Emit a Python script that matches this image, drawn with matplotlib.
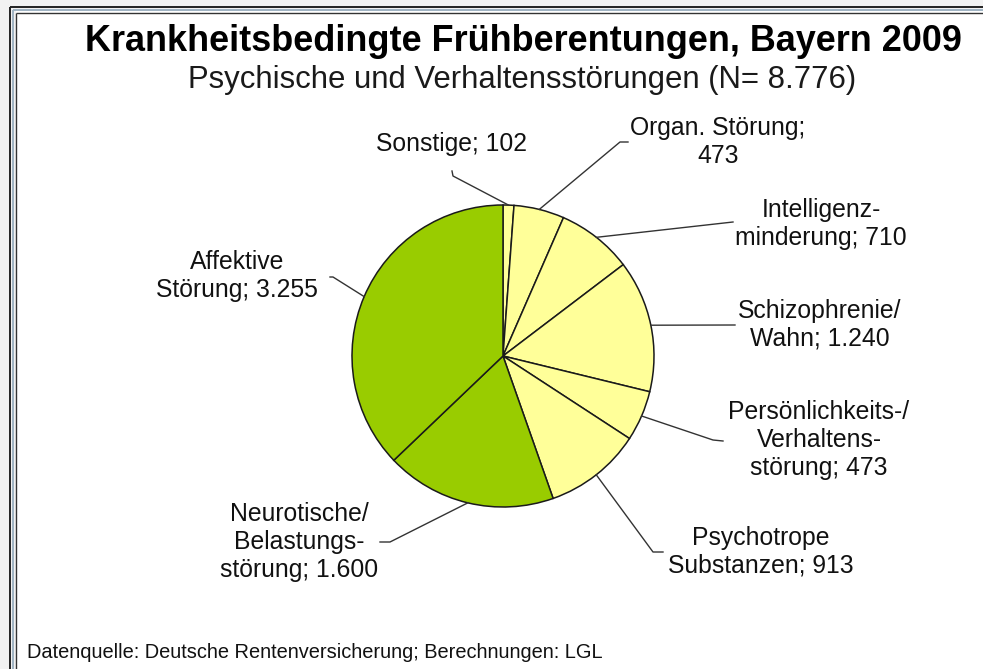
import matplotlib
matplotlib.use("Agg")
import matplotlib.pyplot as plt
from matplotlib.patches import Rectangle
import numpy as np

# ---- data ----
categories = ["Sonstige", "Organ. Störung", "Intelligenzminderung", "Schizophrenie/Wahn",
              "Persönlichkeits-/Verhaltensstörung", "Psychotrope Substanzen",
              "Neurotische/Belastungsstörung", "Affektive Störung"]
values = [102, 473, 710, 1240, 473, 913, 1600, 3255]
label_texts = ["Sonstige; 102", "Organ. Störung;\n473", "Intelligenz-\nminderung; 710",
               "Schizophrenie/\nWahn; 1.240", "Persönlichkeits-/\nVerhaltens-\nstörung; 473",
               "Psychotrope\nSubstanzen; 913", "Neurotische/\nBelastungs-\nstörung; 1.600",
               "Affektive\nStörung; 3.255"]
title = "Krankheitsbedingte Frühberentungen, Bayern 2009"
subtitle = "Psychische und Verhaltensstörungen (N= 8.776)"
footer = "Datenquelle: Deutsche Rentenversicherung; Berechnungen: LGL"

# ---- style ----
YELLOW = "#FFFF99"
GREEN = "#99CC00"
colors = [YELLOW] * 6 + [GREEN] * 2
W, H = 983, 669
plt.rcParams['font.family'] = ['Liberation Sans', 'DejaVu Sans']

fig = plt.figure(figsize=(W / 100, H / 100), dpi=100)
fig.patch.set_facecolor("#f2f2f2")
ax = fig.add_axes([0, 0, 1, 1])

def P(x, y):
    return x, H - y

cx, cy, R = 503, 356, 151
wedges, _ = ax.pie(values, colors=colors, startangle=90, counterclock=False,
                   center=P(cx, cy), radius=R,
                   wedgeprops=dict(edgecolor="#1a1a1a", linewidth=1.1))
ax.set_xlim(0, W)
ax.set_ylim(0, H)
ax.set_aspect("equal")
ax.axis("off")

# frame
ax.add_patch(Rectangle(P(16, H), W, H - 11, facecolor="white", edgecolor="none", zorder=-5))
for off, col, lw in [(10, "#222222", 1.4), (13, "#9fb3c2", 1.4), (16, "#333333", 1.0)]:
    ax.plot([off, off], [0, H - (off - 3)], color=col, lw=lw, zorder=-1, solid_capstyle="butt")
    ax.plot([off, W], [H - (off - 3), H - (off - 3)], color=col, lw=lw, zorder=-1, solid_capstyle="butt")

# label layout (pixel coords): elbow points and text centres
layout = [
    ([(453, 176), (452, 171)], (452, 144)),
    ([(620, 142), (628, 142)], (718, 142)),
    ([(733, 222)], (821, 224)),
    ([(735, 325)], (820, 325)),
    ([(713, 440), (723, 441)], (819, 440)),
    ([(653, 552), (663, 552)], (761, 552)),
    ([(390, 542), (380, 542)], (299, 542)),
    ([(333, 277), (330, 277)], (237, 276)),
]
for w, txt, (pts, tpos) in zip(wedges, label_texts, layout):
    ang = np.deg2rad((w.theta1 + w.theta2) / 2)
    sx = w.center[0] + w.r * np.cos(ang)
    sy = w.center[1] + w.r * np.sin(ang)
    xs = [sx] + [p[0] for p in pts]
    ys = [sy] + [H - p[1] for p in pts]
    ax.plot(xs, ys, color="#333333", lw=1.0)
    ax.text(*P(*tpos), txt, ha="center", va="center", multialignment="center",
            fontsize=17.8, color="#111111", linespacing=1.2)

ax.text(*P(523, 51), title, ha="center", va="baseline", fontsize=25.9,
        fontweight="bold", color="#000000")
ax.text(*P(522, 88), subtitle, ha="center", va="baseline", fontsize=22.4,
        color="#1a1a1a")
ax.text(*P(27, 658), footer, ha="left", va="baseline", fontsize=14.4,
        color="#111111")

fig.savefig("out.png", dpi=100, facecolor=fig.get_facecolor())
